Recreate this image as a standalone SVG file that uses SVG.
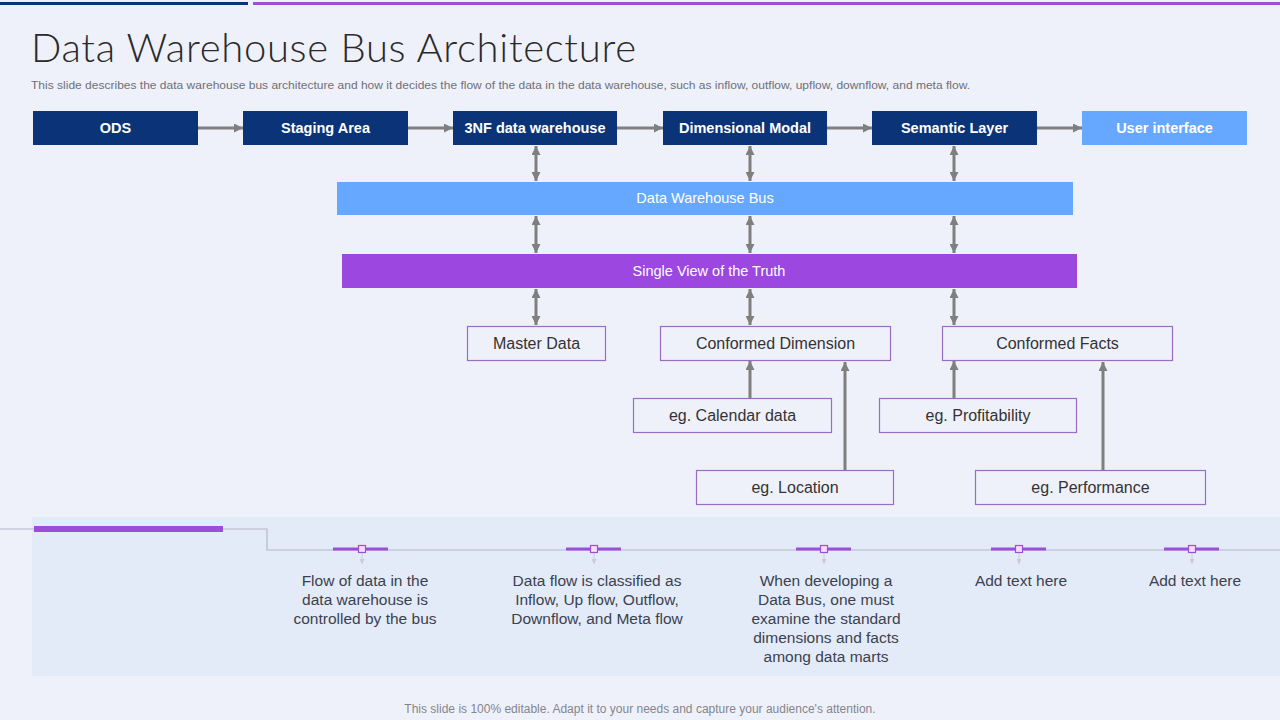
<svg xmlns="http://www.w3.org/2000/svg" width="1280" height="720" viewBox="0 0 1280 720">
<defs>
<marker id="ah" viewBox="0 0 10 10" refX="10" refY="5" markerWidth="9" markerHeight="9" markerUnits="userSpaceOnUse" orient="auto-start-reverse">
<path d="M0,0 L10,5 L0,10 Z" fill="#7F7F7F"/>
</marker>
<marker id="ahs" viewBox="0 0 10 10" refX="10" refY="5" markerWidth="5" markerHeight="5" markerUnits="userSpaceOnUse" orient="auto">
<path d="M0,0 L10,5 L0,10 Z" fill="#C9CCD6"/>
</marker>
<style>
.top{fill:#0B3478}
.topt{font-family:"Liberation Sans",Arial,sans-serif;font-size:14.5px;font-weight:bold;fill:#FFFFFF;text-anchor:middle}
.conn{stroke:#7F7F7F;stroke-width:3;fill:none}
.box{fill:#EFF1FA;stroke:#9A6CC2;stroke-width:1.2}
.boxt{font-family:"Liberation Sans",Arial,sans-serif;font-size:16px;fill:#333333;text-anchor:middle}
.bt{font-family:"Liberation Sans",Arial,sans-serif;font-size:15.5px;fill:#3C414E;text-anchor:middle}
.mk{stroke:#9B4FD6;stroke-width:3}
.sq{fill:#F5DDF7;stroke:#9B4FD6;stroke-width:1.2}
</style>
</defs>
<rect x="0" y="0" width="1280" height="720" fill="#EEF1FA"/>
<rect x="0" y="2" width="248" height="3" fill="#0B3478"/>
<rect x="253" y="2" width="1027" height="3" fill="#9B4FD6"/>
<text x="31" y="62" font-family="Lato,'Liberation Sans',sans-serif" font-weight="300" font-size="40" fill="#2A2A2A" textLength="605" lengthAdjust="spacing">Data Warehouse Bus Architecture</text>
<text x="31" y="89" font-family="'Liberation Sans',Arial,sans-serif" font-size="11" fill="#6F6F78" textLength="939" lengthAdjust="spacingAndGlyphs">This slide describes the data warehouse bus architecture and how it decides the flow of the data in the data warehouse, such as inflow, outflow, upflow, downflow, and meta flow.</text>

<g id="connectors">
<line class="conn" x1="198" y1="128" x2="243" y2="128" marker-end="url(#ah)"/>
<line class="conn" x1="408" y1="128" x2="453" y2="128" marker-end="url(#ah)"/>
<line class="conn" x1="617" y1="128" x2="663" y2="128" marker-end="url(#ah)"/>
<line class="conn" x1="827" y1="128" x2="872" y2="128" marker-end="url(#ah)"/>
<line class="conn" x1="1037" y1="128" x2="1082" y2="128" marker-end="url(#ah)"/>
<line class="conn" x1="536" y1="146" x2="536" y2="181" marker-start="url(#ah)" marker-end="url(#ah)"/>
<line class="conn" x1="750" y1="146" x2="750" y2="181" marker-start="url(#ah)" marker-end="url(#ah)"/>
<line class="conn" x1="954" y1="146" x2="954" y2="181" marker-start="url(#ah)" marker-end="url(#ah)"/>
<line class="conn" x1="536" y1="216" x2="536" y2="253" marker-start="url(#ah)" marker-end="url(#ah)"/>
<line class="conn" x1="750" y1="216" x2="750" y2="253" marker-start="url(#ah)" marker-end="url(#ah)"/>
<line class="conn" x1="954" y1="216" x2="954" y2="253" marker-start="url(#ah)" marker-end="url(#ah)"/>
<line class="conn" x1="536" y1="289" x2="536" y2="325" marker-start="url(#ah)" marker-end="url(#ah)"/>
<line class="conn" x1="750" y1="289" x2="750" y2="325" marker-start="url(#ah)" marker-end="url(#ah)"/>
<line class="conn" x1="954" y1="289" x2="954" y2="325" marker-start="url(#ah)" marker-end="url(#ah)"/>
<line class="conn" x1="750" y1="398" x2="750" y2="361" marker-end="url(#ah)"/>
<line class="conn" x1="845" y1="470" x2="845" y2="362" marker-end="url(#ah)"/>
<line class="conn" x1="954" y1="398" x2="954" y2="361" marker-end="url(#ah)"/>
<line class="conn" x1="1103" y1="470" x2="1103" y2="362" marker-end="url(#ah)"/>
</g>

<g id="ods"><rect class="top" x="33" y="111" width="165" height="34"/><text class="topt" x="115.5" y="133">ODS</text></g>
<g id="staging"><rect class="top" x="243" y="111" width="165" height="34"/><text class="topt" x="325.5" y="133">Staging Area</text></g>
<g id="nf3"><rect class="top" x="453" y="111" width="164" height="34"/><text class="topt" x="535" y="133">3NF data warehouse</text></g>
<g id="dimensional"><rect class="top" x="663" y="111" width="164" height="34"/><text class="topt" x="745" y="133">Dimensional Modal</text></g>
<g id="semantic"><rect class="top" x="872" y="111" width="165" height="34"/><text class="topt" x="954.5" y="133">Semantic Layer</text></g>
<g id="ui"><rect x="1082" y="111" width="165" height="34" fill="#66A8FF"/><text class="topt" x="1164.5" y="133">User interface</text></g>

<g id="bus"><rect x="337" y="182" width="736" height="33" fill="#66A8FF"/><text x="705" y="203" font-family="'Liberation Sans',Arial,sans-serif" font-size="14.5" fill="#FFFFFF" text-anchor="middle">Data Warehouse Bus</text></g>
<g id="truth"><rect x="342" y="254" width="735" height="34" fill="#9B47E0"/><text x="709" y="276" font-family="'Liberation Sans',Arial,sans-serif" font-size="14.5" fill="#FFFFFF" text-anchor="middle">Single View of the Truth</text></g>

<g id="master"><rect class="box" x="467.5" y="326.5" width="138" height="34"/><text class="boxt" x="536.5" y="349">Master Data</text></g>
<g id="confdim"><rect class="box" x="660.5" y="326.5" width="230" height="34"/><text class="boxt" x="775.5" y="349">Conformed Dimension</text></g>
<g id="conffacts"><rect class="box" x="942.5" y="326.5" width="230" height="34"/><text class="boxt" x="1057.5" y="349">Conformed Facts</text></g>
<g id="calendar"><rect class="box" x="633.5" y="398.5" width="198" height="34"/><text class="boxt" x="732.5" y="421">eg. Calendar data</text></g>
<g id="profit"><rect class="box" x="879.5" y="398.5" width="197" height="34"/><text class="boxt" x="978" y="421">eg. Profitability</text></g>
<g id="location"><rect class="box" x="696.5" y="470.5" width="197" height="34"/><text class="boxt" x="795" y="493">eg. Location</text></g>
<g id="performance"><rect class="box" x="975.5" y="470.5" width="230" height="34"/><text class="boxt" x="1090.5" y="493">eg. Performance</text></g>

<g id="timeline">
<rect x="32" y="517" width="1248" height="159" fill="#E3EBF9"/>
<polyline points="0,529 267,529 267,550 1280,550" fill="none" stroke="#B4B8C6" stroke-width="1.2"/>
<rect x="34" y="526" width="189" height="6" fill="#9B4FD6"/>
</g>

<g id="item1">
<line class="mk" x1="333" y1="549" x2="388" y2="549"/><line x1="362" y1="553" x2="362" y2="564" stroke="#C9CCD6" stroke-width="1" marker-end="url(#ahs)"/><rect class="sq" x="358.5" y="545.5" width="7" height="7"/>
<text class="bt" x="365" y="586">Flow of data in the</text>
<text class="bt" x="365" y="605">data warehouse  is</text>
<text class="bt" x="365" y="624">controlled by the bus</text>
</g>
<g id="item2">
<line class="mk" x1="566" y1="549" x2="621" y2="549"/><line x1="594" y1="553" x2="594" y2="564" stroke="#C9CCD6" stroke-width="1" marker-end="url(#ahs)"/><rect class="sq" x="590.5" y="545.5" width="7" height="7"/>
<text class="bt" x="597" y="586">Data flow is classified as</text>
<text class="bt" x="597" y="605">Inflow,  Up flow, Outflow,</text>
<text class="bt" x="597" y="624">Downflow,  and Meta flow</text>
</g>
<g id="item3">
<line class="mk" x1="796" y1="549" x2="851" y2="549"/><line x1="824" y1="553" x2="824" y2="564" stroke="#C9CCD6" stroke-width="1" marker-end="url(#ahs)"/><rect class="sq" x="820.5" y="545.5" width="7" height="7"/>
<text class="bt" x="826" y="586">When developing a</text>
<text class="bt" x="826" y="605">Data Bus, one must</text>
<text class="bt" x="826" y="624">examine the standard</text>
<text class="bt" x="826" y="643">dimensions and facts</text>
<text class="bt" x="826" y="662">among data marts</text>
</g>
<g id="item4">
<line class="mk" x1="991" y1="549" x2="1046" y2="549"/><line x1="1019" y1="553" x2="1019" y2="564" stroke="#C9CCD6" stroke-width="1" marker-end="url(#ahs)"/><rect class="sq" x="1015.5" y="545.5" width="7" height="7"/>
<text class="bt" x="1021" y="586">Add text here</text>
</g>
<g id="item5">
<line class="mk" x1="1164" y1="549" x2="1219" y2="549"/><line x1="1192" y1="553" x2="1192" y2="564" stroke="#C9CCD6" stroke-width="1" marker-end="url(#ahs)"/><rect class="sq" x="1188.5" y="545.5" width="7" height="7"/>
<text class="bt" x="1195" y="586">Add text here</text>
</g>

<text x="640" y="713" font-family="'Liberation Sans',Arial,sans-serif" font-size="12" fill="#85858E" text-anchor="middle">This slide is 100% editable. Adapt it to your needs and capture your audience's attention.</text>
</svg>
